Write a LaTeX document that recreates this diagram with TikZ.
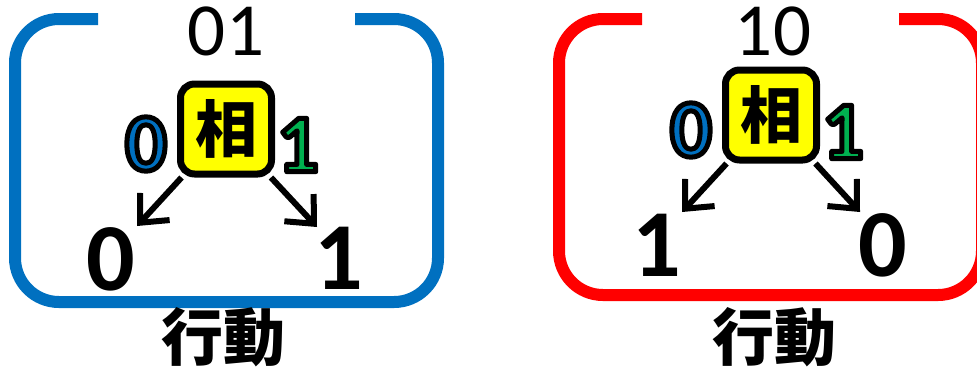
\documentclass[tikz,border=0pt]{standalone}
\usepackage{fontspec}
\setmainfont{Carlito}
\newfontfamily\cjk{Noto Sans CJK JP}
\usetikzlibrary{arrows.meta}
\definecolor{cblue}{HTML}{0070C0}
\definecolor{cred}{HTML}{FF0000}
\definecolor{cgreen}{HTML}{00B050}
\definecolor{cyellow}{HTML}{FFFF00}
\newcommand{\outlinedtext}[2]{\textcolor{#1}{\special{pdf:literal direct 2 Tr 5 w 1 j 0 0 0 RG}#2\special{pdf:literal direct 0 Tr}}}
\begin{document}
\begin{tikzpicture}[x=1pt,y=-1pt,
  bracket/.style={line width=12pt, rounded corners=44pt},
  hbox/.style={draw, line width=7pt, fill=cyellow, rounded corners=14pt,
    minimum width=91pt, minimum height=90pt, inner sep=0pt,
    font=\cjk\bfseries\fontsize{62}{62}\selectfont},
  arr/.style={line width=6pt, -{Straight Barb[length=22pt,width=40pt]}},
  state/.style={inner sep=0pt, font=\fontsize{75}{75}\selectfont},
  edgelbl/.style={inner sep=0pt, font=\bfseries\fontsize{82}{82}\selectfont},
  outcome/.style={inner sep=0pt, font=\bfseries\fontsize{96}{96}\selectfont},
  cjklbl/.style={inner sep=0pt, font=\cjk\bfseries\fontsize{62}{62}\selectfont}
]
\useasboundingbox (0,0) rectangle (977,368);
\clip (0,0) rectangle (977,368);

% ---- left group ----
\draw[bracket, cblue] (98,19) -- (15,19) -- (15,302) -- (438,302) -- (438,19) -- (355,19);
\node[state] (s1) at (226,31) {01};
\node[hbox] (b1) at (226,129) {相};
\node[edgelbl] (l10) at (146,144) {\outlinedtext{cblue}{0}};
\node[edgelbl] (l11) at (298,145) {\outlinedtext{cgreen}{1}};
\coordinate (t10) at (137,226);
\coordinate (t11) at (317,227);
\draw[arr] (b1) -- (t10);
\draw[arr] (b1) -- (t11);
\node[outcome] (o10) at (111,259) {0};
\node[outcome] (o11) at (339,258) {1};
\node[cjklbl] (a1) at (223,337) {行動};

% ---- right group ----
\draw[bracket, cred] (642,19) -- (559,19) -- (559,295) -- (982,295) -- (982,19) -- (899,19);
\node[state] (s2) at (773,31) {10};
\node[hbox] (b2) at (771,115) {相};
\node[edgelbl] (l20) at (691,130) {\outlinedtext{cblue}{0}};
\node[edgelbl] (l21) at (843,132) {\outlinedtext{cgreen}{1}};
\coordinate (t20) at (682,212);
\coordinate (t21) at (860,212);
\draw[arr] (b2) -- (t20);
\draw[arr] (b2) -- (t21);
\node[outcome] (o20) at (657,245) {1};
\node[outcome] (o21) at (883,245) {0};
\node[cjklbl] (a2) at (774,337) {行動};
\end{tikzpicture}
\end{document}
